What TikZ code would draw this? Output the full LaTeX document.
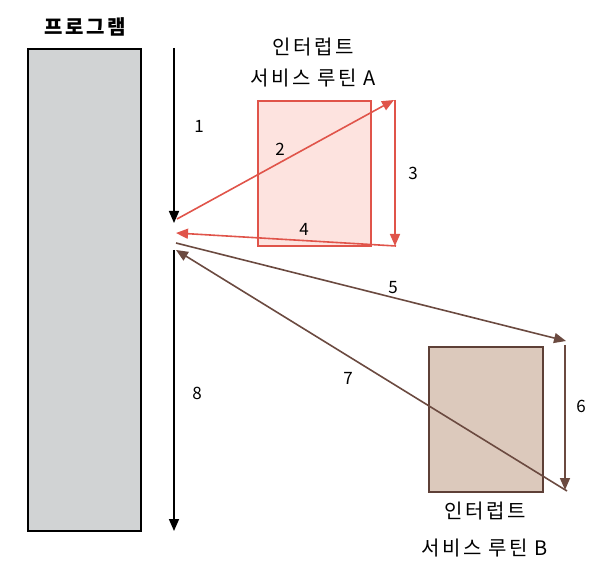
\documentclass[tikz,border=0pt]{standalone}
\usepackage{fontspec}
\setmainfont{Noto Sans CJK KR}
\newfontfamily\krsp[LetterSpace=12]{Noto Sans CJK KR}
\usetikzlibrary{arrows.meta}
\definecolor{progfill}{HTML}{D1D3D4}
\definecolor{afill}{HTML}{FDE3DF}
\definecolor{aline}{HTML}{E0544A}
\definecolor{bfill}{HTML}{DCC9BC}
\definecolor{bline}{HTML}{5E4037}
\definecolor{barrow}{HTML}{6B4A40}
\tikzset{
  lbl/.style={font=\krsp\fontsize{20}{22}\selectfont, inner sep=0pt},
  num/.style={font=\fontsize{17}{19}\selectfont, inner sep=0pt},
  blackarr/.style={draw=black, line width=1.6pt, -{Triangle[length=12pt,width=10pt]}},
  redarr/.style={draw=aline, line width=1.6pt, -{Triangle[length=12pt,width=10pt]}},
  brownarr/.style={draw=barrow, line width=1.6pt, -{Triangle[length=12pt,width=10pt]}},
}
\begin{document}
\begin{tikzpicture}[x=1pt,y=-1pt]
\useasboundingbox (0,0) rectangle (592,577);
% program
\node[draw=black, line width=1.8pt, fill=progfill, minimum width=113pt, minimum height=482pt, inner sep=0pt, anchor=north west] (prog) at (27,48) {};
\node[lbl, font=\krsp\fontsize{20}{22}\selectfont\bfseries] (progl) at (85,27) {프로그램};
% box A
\node[draw=aline, line width=1.6pt, fill=afill, minimum width=113pt, minimum height=145pt, inner sep=0pt, anchor=north west] (boxA) at (257,100) {};
\node[lbl] (aL1) at (313,47) {인터럽트};
\node[lbl] (aL2) at (313,78) {서비스 루틴 A};
% box B
\node[draw=bline, line width=1.6pt, fill=bfill, minimum width=114pt, minimum height=145pt, inner sep=0pt, anchor=north west] (boxB) at (428,346) {};
\node[lbl] (bL1) at (485,511) {인터럽트};
\node[lbl] (bL2) at (485,548) {서비스 루틴 B};
% coordinates
\coordinate (p1s) at (174,48);
\coordinate (p1e) at (174,223);
\coordinate (p8s) at (174,250);
\coordinate (p8e) at (174,531);
\coordinate (c2s) at (177,219);
\coordinate (c2e) at (394,100);
\coordinate (c3s) at (395,100);
\coordinate (c3e) at (395,246);
\coordinate (c4s) at (396,246);
\coordinate (c4e) at (176,233);
\coordinate (c5s) at (176,243);
\coordinate (c5e) at (566,341);
\coordinate (c6s) at (565,345);
\coordinate (c6e) at (565,490);
\coordinate (c7s) at (567,491);
\coordinate (c7e) at (176,250);
% arrows
\draw[blackarr] (p1s) -- (p1e);
\draw[blackarr] (p8s) -- (p8e);
\draw[redarr] (c2s) -- (c2e);
\draw[redarr] (c3s) -- (c3e);
\draw[redarr] (c4s) -- (c4e);
\draw[brownarr] (c5s) -- (c5e);
\draw[brownarr] (c6s) -- (c6e);
\draw[brownarr] (c7s) -- (c7e);
% numbers
\node[num] (n1) at (199,126) {1};
\node[num] (n2) at (280,149) {2};
\node[num] (n3) at (413,173) {3};
\node[num] (n4) at (304,229) {4};
\node[num] (n5) at (393,288) {5};
\node[num] (n6) at (581,406) {6};
\node[num] (n7) at (348,378) {7};
\node[num] (n8) at (197,393) {8};
\end{tikzpicture}
\end{document}
